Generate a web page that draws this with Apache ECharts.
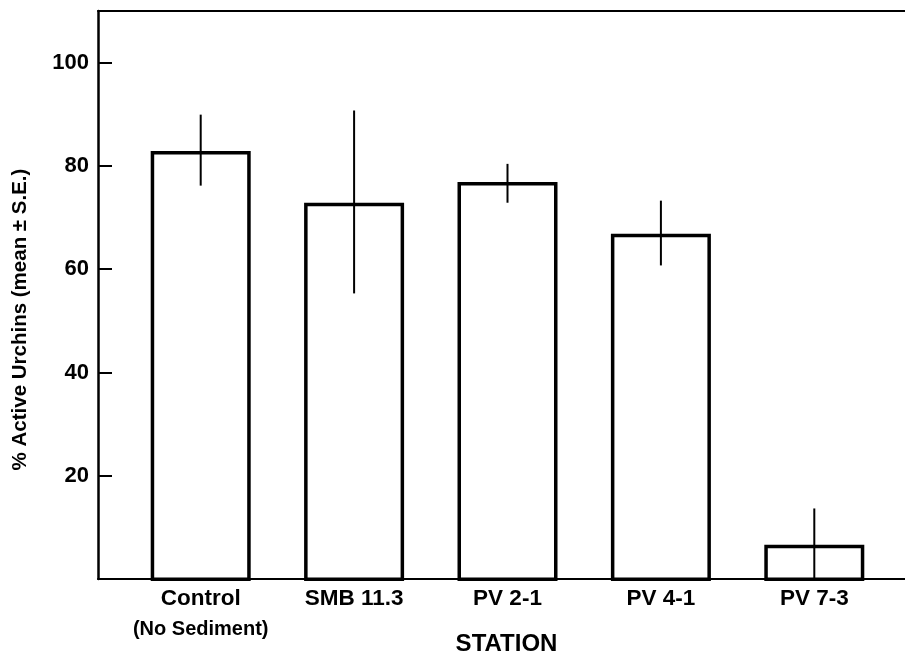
<!DOCTYPE html>
<html>
<head>
<meta charset="utf-8">
<script src="https://cdn.jsdelivr.net/npm/echarts@6/dist/echarts.min.js"></script>
<style>
html,body{margin:0;padding:0;background:#fff;}
#chart{width:905px;height:661px;}
</style>
</head>
<body>
<div id="chart"></div>
<script>
// ---- data ----
const categories = ['Control', 'SMB 11.3', 'PV 2-1', 'PV 4-1', 'PV 7-3'];
const subLabels = ['(No Sediment)', '', '', '', ''];
const meanValues = [83, 73, 77, 67, 7];
const seHigh = [90, 90.8, 80.5, 73.4, 14];
const seLow = [76.3, 55.5, 73, 60.9, 0];
const yTicks = [20, 40, 60, 80, 100];
const yTitle = '% Active Urchins (mean \u00b1 S.E.)';
const xTitle = 'STATION';

const FONT = '"Liberation Sans", Arial, sans-serif';
const chart = echarts.init(document.getElementById('chart'), null, {renderer: 'canvas'});

const errData = categories.map((c, i) => [i, seLow[i], seHigh[i]]);

const option = {
  backgroundColor: '#fff',
  animation: false,
  grid: [
    {left: 124, right: 14, top: 11, bottom: 80},
    {left: 98, right: 0, top: 11, bottom: 80}
  ],
  xAxis: [
    {
      gridIndex: 0, type: 'category', data: categories,
      axisLine: {show: false}, axisTick: {show: false},
      axisLabel: {
        margin: 6,
        formatter: (v, i) => subLabels[i] ? '{a|' + v + '}\n{b|' + subLabels[i] + '}' : '{a|' + v + '}',
        rich: {
          a: {fontFamily: FONT, fontWeight: 'bold', fontSize: 22.5, color: '#000', lineHeight: 24},
          b: {fontFamily: FONT, fontWeight: 'bold', fontSize: 20, color: '#000', lineHeight: 36}
        }
      }
    },
    {
      gridIndex: 1, type: 'value', min: 0, max: 1, position: 'bottom',
      axisLine: {show: true, lineStyle: {color: '#000', width: 2}},
      axisTick: {show: false}, axisLabel: {show: false}, splitLine: {show: false},
      name: xTitle, nameLocation: 'middle', nameGap: 53,
      nameTextStyle: {fontFamily: FONT, fontWeight: 'bold', fontSize: 24, color: '#000', padding: [0, 0, 0, 10]}
    },
    {
      gridIndex: 1, type: 'value', min: 0, max: 1, position: 'top',
      axisLine: {show: true, lineStyle: {color: '#000', width: 2}},
      axisTick: {show: false}, axisLabel: {show: false}, splitLine: {show: false}
    }
  ],
  yAxis: [
    {
      gridIndex: 0, type: 'value', min: 0, max: 110,
      show: false, splitLine: {show: false}
    },
    {
      gridIndex: 1, type: 'value', min: 0, max: 110, interval: 20,
      axisLine: {show: true, lineStyle: {color: '#000', width: 2.5}},
      axisTick: {show: true, inside: true, length: 14, lineStyle: {color: '#000', width: 2}, customValues: yTicks},
      axisLabel: {margin: 9, fontFamily: FONT, fontWeight: 'bold', fontSize: 22, color: '#000', customValues: yTicks},
      splitLine: {show: false},
      name: yTitle, nameLocation: 'middle', nameGap: 67, nameRotate: 90,
      nameTextStyle: {fontFamily: FONT, fontWeight: 'bold', fontSize: 20.5, color: '#000', padding: [0, 49, 0, 0]}
    }
  ],
  series: [
    {
      type: 'bar', xAxisIndex: 0, yAxisIndex: 0,
      data: meanValues, barWidth: 100,
      itemStyle: {color: '#fff', borderColor: '#000', borderWidth: 3.5},
      z: 2
    },
    {
      type: 'custom', xAxisIndex: 0, yAxisIndex: 0,
      data: errData, z: 3,
      renderItem: function (params, api) {
        const x = api.value(0);
        const p1 = api.coord([x, api.value(1)]);
        const p2 = api.coord([x, api.value(2)]);
        return {
          type: 'line',
          shape: {x1: p1[0], y1: p1[1], x2: p2[0], y2: p2[1]},
          style: {stroke: '#000', lineWidth: 2}
        };
      }
    }
  ]
};
chart.setOption(option);
</script>
</body>
</html>
